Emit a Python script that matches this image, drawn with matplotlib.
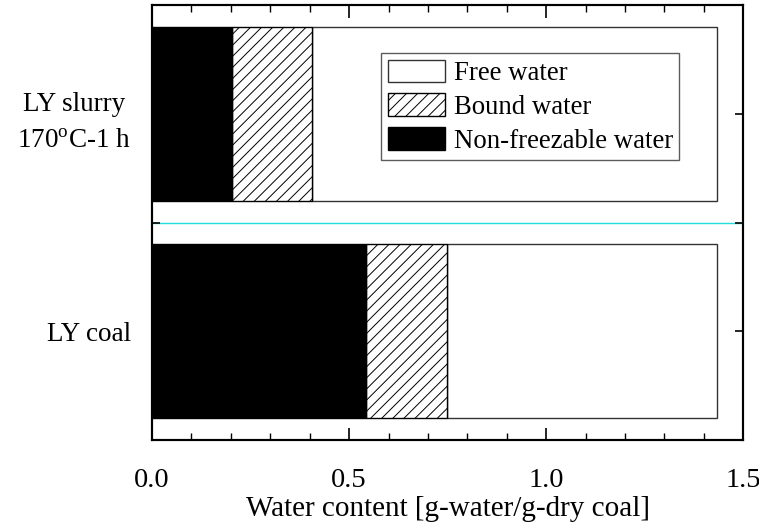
import matplotlib
matplotlib.use("Agg")
import matplotlib.pyplot as plt
from matplotlib.ticker import MultipleLocator

plt.rcParams['font.family'] = ['Liberation Serif', 'DejaVu Serif']
plt.rcParams['mathtext.fontset'] = 'custom'
plt.rcParams['mathtext.rm'] = 'Liberation Serif'
plt.rcParams['hatch.linewidth'] = 0.7

# data (g-water / g-dry coal)
samples = ['LY coal', 'LY slurry\n170$^{\\rm o}$C-1 h']
non_freezable = [0.543, 0.202]
bound = [0.206, 0.203]
free = [0.685, 1.029]

fig = plt.figure(figsize=(7.59, 5.28), dpi=100)
ax = fig.add_axes([0.2003, 0.1667, 0.779, 0.8229])

ypos = list(range(len(samples)))
edge = '#333333'
left_bound = [a for a in non_freezable]
left_free = [a + b for a, b in zip(non_freezable, bound)]

h_free = ax.barh(ypos, free, left=left_free, height=0.8, color='white',
                 edgecolor=edge, linewidth=1.0, label='Free water')
h_bound = ax.barh(ypos, bound, left=left_bound, height=0.8, color='white',
                  edgecolor='black', hatch='///', linewidth=1.0, label='Bound water')
h_non = ax.barh(ypos, non_freezable, height=0.8, color='black',
                edgecolor='black', linewidth=1.0, label='Non-freezable water')

ax.axhline(0.5, color='#22dddd', linewidth=1.0, zorder=0.5)

ax.set_xlim(0, 1.5)
ax.set_ylim(-0.5, 1.5)

ax.xaxis.set_major_locator(MultipleLocator(0.5))
ax.xaxis.set_minor_locator(MultipleLocator(0.1))
ax.tick_params(axis='x', which='both', direction='in', top=True, bottom=True,
               labelsize=20.5, pad=20)
ax.tick_params(axis='x', which='major', length=9, width=1.2)
ax.tick_params(axis='x', which='minor', length=5, width=1.0)

ax.set_yticks(ypos)
ax.set_yticklabels(samples, fontsize=19.5, multialignment='center', linespacing=1.6)
ax.set_yticks([0.5], minor=True)
ax.tick_params(axis='y', which='major', length=0, pad=15)
ax.tick_params(axis='y', which='minor', direction='in', length=6, width=1.2)

# right-hand ticks
ax2 = ax.twinx()
ax2.set_ylim(ax.get_ylim())
ax2.set_yticks([0, 0.5, 1])
ax2.tick_params(axis='y', direction='in', length=6, width=1.2, labelright=False)

for a in (ax, ax2):
    for sp in a.spines.values():
        sp.set_linewidth(1.5)

ax.set_xlabel('Water content [g-water/g-dry coal]', fontsize=21, labelpad=2)

leg = ax.legend(handles=[h_free, h_bound, h_non], loc='upper left',
                bbox_to_anchor=(0.3875, 0.891), borderaxespad=0, fontsize=19.3,
                fancybox=False, edgecolor=edge, handlelength=2.15,
                handleheight=0.9, handletextpad=0.3, labelspacing=0.28,
                borderpad=0.25)
leg.get_frame().set_linewidth(1.0)

fig.savefig('out.png', dpi=100)
